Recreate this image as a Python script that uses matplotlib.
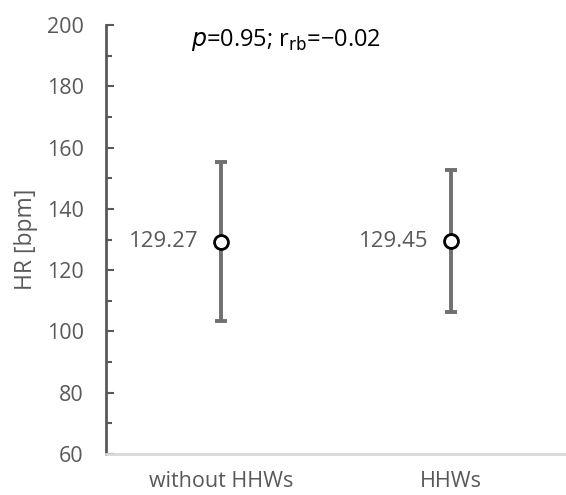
import matplotlib.pyplot as plt
from matplotlib.ticker import MultipleLocator

# Данные
groups = ['without HHWs', 'HHWs']
means = [129.27, 129.45]
sds = [25.9, 23.1]
labels = ['129.27', '129.45']

plt.rcParams['font.family'] = ['Open Sans', 'DejaVu Sans']
gray = '#595959'
fs = 15.5

fig = plt.figure(figsize=(5.66, 4.95), dpi=100)
ax = fig.add_axes([0.1873, 0.0828, 0.8127, 0.8667])

x = list(range(len(groups)))
ax.errorbar(x, means, yerr=sds, fmt='none', ecolor='#707070', elinewidth=2.8,
            capsize=4.5, capthick=2.8, zorder=2)
ax.plot(x, means, 'o', markersize=10, markerfacecolor='white',
        markeredgecolor='black', markeredgewidth=2, zorder=3)

for xi, m, t in zip(x, means, labels):
    ax.annotate(t, (xi, m), xytext=(-16, 0), textcoords='offset points',
                ha='right', va='center', fontsize=16, color=gray)

ax.set_xlim(-0.5, 1.5)
ax.set_ylim(60, 200)
ax.yaxis.set_major_locator(MultipleLocator(20))
ax.yaxis.set_minor_locator(MultipleLocator(10))
ax.set_xticks(x)
ax.set_xticklabels(groups)

ax.spines['top'].set_visible(False)
ax.spines['right'].set_visible(False)
ax.spines['left'].set_color('#595959')
ax.spines['left'].set_linewidth(2)
ax.spines['bottom'].set_color('#d9d9d9')
ax.spines['bottom'].set_linewidth(2)

ax.tick_params(axis='y', which='major', direction='in', length=6, width=1.5,
               color='#595959', labelsize=fs, labelcolor=gray, pad=16)
ax.tick_params(axis='y', which='minor', direction='in', length=4, width=1.5,
               color='#595959')
ax.tick_params(axis='x', length=0, labelsize=fs, labelcolor=gray, pad=12)

ax.set_ylabel('HR [bpm]', fontsize=16.5, color=gray, labelpad=6)

ax.text(0.185, 0.965, '$p$=0.95; r$_{\\mathrm{rb}}$=\u22120.02', transform=ax.transAxes,
        fontsize=17, color='black', va='center', ha='left')

fig.savefig('out.png', dpi=100)
